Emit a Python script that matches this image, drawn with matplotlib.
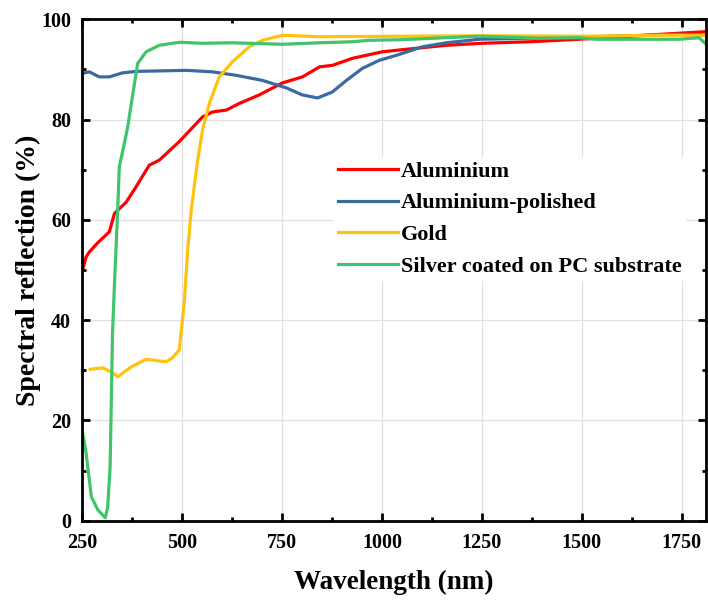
import matplotlib.pyplot as plt

plt.rcParams['font.family'] = ['Liberation Serif', 'DejaVu Serif']
plt.rcParams['font.weight'] = 'bold'

# Aluminium
al_x = [250, 260, 268, 290, 318, 331, 360, 385, 418, 443, 493, 551, 576, 611, 643,
        693, 751, 801, 844, 876, 926, 1001, 1036, 1161, 1251, 1368, 1493, 1618, 1743, 1808]
al_y = [49.7, 52.6, 53.6, 55.5, 57.6, 61.3, 63.5, 66.6, 70.9, 71.9, 75.6, 80.5, 81.5, 81.9, 83.2,
        84.9, 87.3, 88.5, 90.5, 90.8, 92.2, 93.5, 93.8, 94.8, 95.2, 95.5, 96.0, 96.6, 97.2, 97.5]

# Aluminium-polished
alp_x = [250, 268, 293, 318, 351, 386, 511, 576, 636, 701, 761, 801, 839, 876, 911,
         951, 993, 1036, 1101, 1161, 1243, 1368, 1493, 1661, 1743, 1808]
alp_y = [89.2, 89.5, 88.5, 88.5, 89.3, 89.6, 89.8, 89.5, 88.8, 87.8, 86.3, 84.9, 84.3, 85.5, 87.8,
         90.2, 91.8, 92.8, 94.5, 95.3, 96.0, 96.2, 96.4, 96.8, 97.0, 96.8]

# Gold
au_x = [270, 301, 323, 339, 373, 410, 460, 476, 493, 506, 514, 523, 539, 551, 568,
        593, 626, 668, 701, 751, 844, 1043, 1250, 1500, 1700, 1808]
au_y = [30.2, 30.5, 29.7, 28.7, 30.7, 32.2, 31.7, 32.5, 34.1, 44.0, 54.0, 62.0, 71.9, 77.9, 83.2,
        88.5, 91.5, 94.5, 95.8, 96.8, 96.5, 96.6, 96.7, 96.6, 96.8, 96.8]

# Silver coated on PC substrate
ag_x = [250, 260, 273, 289, 308, 314, 320, 323, 326, 331, 339, 343, 352, 364, 377,
        389, 410, 443, 493, 551, 626, 751, 844, 926, 968, 1043, 1243, 1393, 1493, 1536,
        1743, 1793, 1808]
ag_y = [18.1, 13.5, 4.8, 2.2, 0.6, 2.8, 10.8, 24.0, 37.4, 47.4, 62.0, 70.6, 73.9, 78.5, 85.2,
        91.2, 93.5, 94.8, 95.4, 95.2, 95.3, 95.0, 95.3, 95.5, 95.8, 95.9, 96.6, 96.2, 96.3, 96.0,
        96.0, 96.3, 95.2]

fig = plt.figure(figsize=(7.08, 6.0), dpi=100)
ax = fig.add_axes([0.116, 0.132, 0.881, 0.836])

ax.plot(al_x, al_y, color='#FF0000', lw=2.3, label='Aluminium')
ax.plot(alp_x, alp_y, color='#3A6AA0', lw=2.3, label='Aluminium-polished')
ax.plot(au_x, au_y, color='#FFC20E', lw=2.3, label='Gold')
ax.plot(ag_x, ag_y, color='#40C46C', lw=2.3, label='Silver coated on PC substrate')

ax.set_xlim(250, 1810)
ax.set_ylim(0, 100)
ax.set_xticks([250, 500, 750, 1000, 1250, 1500, 1750])
ax.set_xticks([375, 625, 875, 1125, 1375, 1625], minor=True)
ax.set_yticks([0, 20, 40, 60, 80, 100])
ax.set_yticks([10, 30, 50, 70, 90], minor=True)
ax.grid(True, which='major', color='#E0E0E0', lw=0.9)
ax.set_axisbelow(True)
ax.tick_params(which='both', direction='in', top=True, right=True, labelsize=14.5)
ax.tick_params(which='major', length=6, width=2)
ax.tick_params(which='minor', length=3, width=2)
ax.tick_params(axis='x', which='major', pad=9)
ax.tick_params(axis='y', which='major', pad=8)
for s in ax.spines.values():
    s.set_linewidth(2)

ax.set_xlabel('Wavelength (nm)', fontsize=19.5, fontweight='bold', labelpad=12)
ax.set_ylabel('Spectral reflection (%)', fontsize=20, fontweight='bold', labelpad=0)

leg = ax.legend(loc='upper left', bbox_to_anchor=(0.385, 0.748), fontsize=16,
                frameon=True, facecolor='white', edgecolor='none', framealpha=1,
                handlelength=2.7, labelspacing=0.5, borderpad=0.2, handletextpad=0.15)

fig.savefig('out.png', dpi=100)
